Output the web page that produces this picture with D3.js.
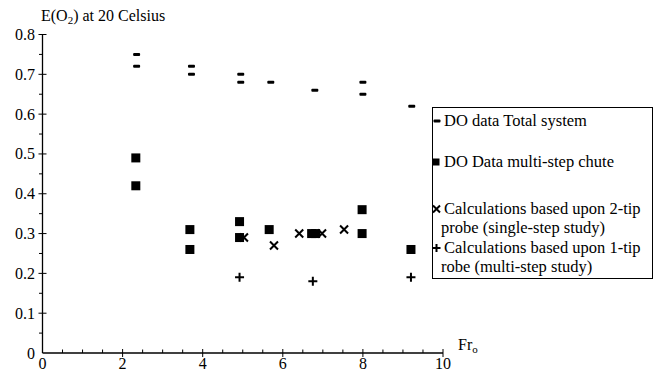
<!DOCTYPE html>
<html>
<head>
<meta charset="utf-8">
<script src="https://cdn.jsdelivr.net/npm/d3@7"></script>
<style>
  html, body { margin: 0; padding: 0; background: #fff; }
  svg { display: block; }
  text { font-family: "Liberation Serif", "Times New Roman", serif; fill: #000; }
</style>
</head>
<body>
<svg id="chart" width="658" height="373"></svg>
<script>
// ---- data ----
const totalX  = [2.35, 2.35, 3.72, 3.72, 4.95, 4.95, 5.70, 6.80, 8.00, 8.00, 9.22];
const totalY  = [0.75, 0.72, 0.72, 0.70, 0.70, 0.68, 0.68, 0.66, 0.68, 0.65, 0.62];
const chuteX  = [2.33, 2.33, 3.68, 3.68, 4.92, 4.92, 5.66, 6.72, 6.82, 7.98, 7.98, 9.20];
const chuteY  = [0.49, 0.42, 0.31, 0.26, 0.33, 0.29, 0.31, 0.30, 0.30, 0.36, 0.30, 0.26];
const twoTipX = [5.03, 5.78, 6.41, 6.98, 7.53];
const twoTipY = [0.29, 0.27, 0.30, 0.30, 0.31];
const oneTipX = [4.92, 6.75, 9.20];
const oneTipY = [0.19, 0.18, 0.19];
const xTicks  = [0, 2, 4, 6, 8, 10];
const yTicks  = [0, 0.1, 0.2, 0.3, 0.4, 0.5, 0.6, 0.7, 0.8];
const legendLabels = [
  ["DO data Total system"],
  ["DO Data multi-step chute"],
  ["Calculations based upon 2-tip", "probe (single-step study)"],
  ["Calculations based upon 1-tip", "robe (multi-step study)"]
];

const svg = d3.select("#chart");
const x = d3.scaleLinear().domain([0, 10]).range([42.5, 443]);
const y = d3.scaleLinear().domain([0, 0.8]).range([353, 34.5]);

// ---- axes ----
const ax = svg.append("g").attr("stroke", "#000").attr("stroke-width", 1.3);
ax.append("line").attr("x1", x(0)).attr("x2", x(0)).attr("y1", y(0.8)).attr("y2", y(0));
ax.append("line").attr("x1", x(0)).attr("x2", x(10)).attr("y1", y(0)).attr("y2", y(0));

// y major ticks (crossing) and minor ticks (left)
ax.selectAll(".ymaj").data(yTicks.filter(d => d > 0)).enter().append("line")
  .attr("x1", x(0) - 4).attr("x2", x(0) + 4)
  .attr("y1", d => y(d)).attr("y2", d => y(d)).attr("stroke-width", 1);
ax.selectAll(".ymin").data(d3.range(0.05, 0.8, 0.1)).enter().append("line")
  .attr("x1", x(0) - 3.5).attr("x2", x(0))
  .attr("y1", d => y(d)).attr("y2", d => y(d)).attr("stroke-width", 1);

// x major ticks (crossing) and minor ticks (above)
ax.selectAll(".xmaj").data(xTicks.filter(d => d > 0)).enter().append("line")
  .attr("x1", d => x(d)).attr("x2", d => x(d))
  .attr("y1", y(0) - 4).attr("y2", y(0) + 4).attr("stroke-width", 1);
ax.selectAll(".xmin").data(d3.range(0.5, 10, 0.5).filter(d => d % 2 !== 0)).enter().append("line")
  .attr("x1", d => x(d)).attr("x2", d => x(d))
  .attr("y1", y(0) - 3.5).attr("y2", y(0)).attr("stroke-width", 1);

// tick labels
svg.selectAll(".ylab").data(yTicks).enter().append("text")
  .attr("x", 35).attr("y", d => y(d) + 5.5)
  .attr("text-anchor", "end").attr("font-size", 16)
  .text(d => d === 0 ? "0" : d3.format(".1f")(d));
svg.selectAll(".xlab").data(xTicks).enter().append("text")
  .attr("x", d => x(d)).attr("y", 369)
  .attr("text-anchor", "middle").attr("font-size", 16)
  .text(d => d);

// axis titles
const t1 = svg.append("text").attr("x", 41).attr("y", 21).attr("font-size", 16);
t1.append("tspan").text("E(O");
t1.append("tspan").attr("font-size", 11).attr("dy", 3).text("2");
t1.append("tspan").attr("dy", -3).text(") at 20 Celsius");

const t2 = svg.append("text").attr("x", 458).attr("y", 350).attr("font-size", 16);
t2.append("tspan").text("Fr");
t2.append("tspan").attr("font-size", 11).attr("dy", 3).text("o");

// ---- markers ----
function dash(g, cx, cy) {
  g.append("rect").attr("x", cx - 3.5).attr("y", cy - 1.5).attr("width", 7).attr("height", 3)
    .attr("rx", 1).attr("fill", "#000");
}
function square(g, cx, cy, s) {
  g.append("rect").attr("x", cx - s / 2).attr("y", cy - s / 2).attr("width", s).attr("height", s).attr("fill", "#000");
}
function cross(g, cx, cy, r) {
  g.append("path").attr("d", `M${cx - r},${cy - r}L${cx + r},${cy + r}M${cx - r},${cy + r}L${cx + r},${cy - r}`)
    .attr("stroke", "#000").attr("stroke-width", 2).attr("fill", "none");
}
function plus(g, cx, cy, r) {
  g.append("path").attr("d", `M${cx - r},${cy}L${cx + r},${cy}M${cx},${cy - r}L${cx},${cy + r}`)
    .attr("stroke", "#000").attr("stroke-width", 2).attr("fill", "none");
}

const pts = svg.append("g");
totalX.forEach((v, i) => dash(pts, x(v), y(totalY[i])));
chuteX.forEach((v, i) => square(pts, x(v), y(chuteY[i]), 9));
twoTipX.forEach((v, i) => cross(pts, x(v), y(twoTipY[i]), 4));
oneTipX.forEach((v, i) => plus(pts, x(v), y(oneTipY[i]), 4.5));

// ---- legend ----
const lg = svg.append("g");
lg.append("rect").attr("x", 432.5).attr("y", 107.5).attr("width", 220).attr("height", 171)
  .attr("fill", "#fff").attr("stroke", "#000").attr("stroke-width", 1);
const rowY = [126, 167, 214, 253];
const markerFns = [
  (cy) => dash(lg, 437, cy),
  (cy) => square(lg, 436, cy, 7),
  (cy) => cross(lg, 436.5, cy, 3.5),
  (cy) => plus(lg, 436.5, cy, 4)
];
legendLabels.forEach((lines, i) => {
  markerFns[i](rowY[i] - 5);
  lines.forEach((s, j) => {
    lg.append("text").attr("x", j === 0 ? 444 : 441).attr("y", rowY[i] + j * 19)
      .attr("font-size", 16.5).text(s);
  });
});
</script>
</body>
</html>
